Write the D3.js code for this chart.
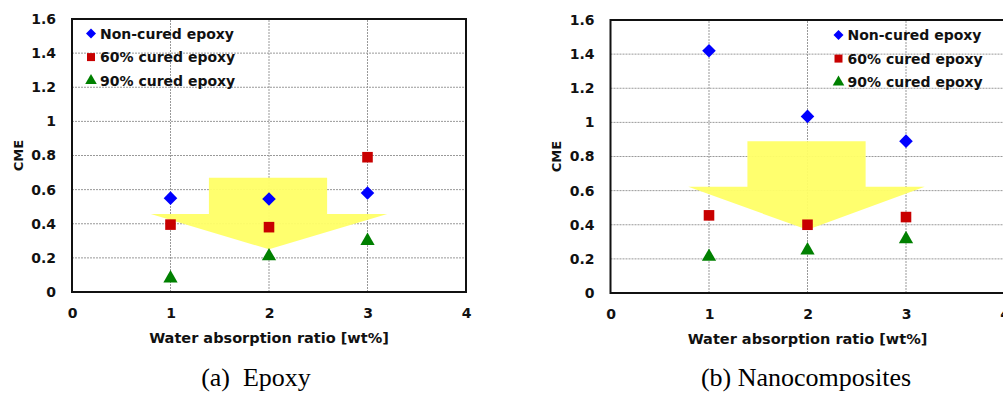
<!DOCTYPE html>
<html>
<head>
<meta charset="utf-8">
<title>CME vs water absorption</title>
<script src="https://d3js.org/d3.v7.min.js"></script>
<style>
body { margin: 0; background: #fff; }
text { font-family: Verdana, "DejaVu Sans", sans-serif; font-weight: bold; fill: #111; }
.caption { font-family: "Liberation Serif", "Times New Roman", serif; font-weight: normal; font-size: 26px; fill: #000; }
</style>
</head>
<body>
<div id="chart"></div>
<script>
// x categories (water absorption ratio, wt%)
const waterRatio = [1, 2, 3];
const xTicks = [0, 1, 2, 3, 4];
const yTicks = [0, 0.2, 0.4, 0.6, 0.8, 1, 1.2, 1.4, 1.6];
const seriesNames = ["Non-cured epoxy", "60% cured epoxy", "90% cured epoxy"];

// (a) Epoxy
const epoxyNonCured = [0.55, 0.545, 0.58];
const epoxy60 = [0.395, 0.38, 0.79];
const epoxy90 = [0.08, 0.21, 0.30];
// yellow arrow: [bodyLeft, bodyRight, bodyTop, headLeft, headRight, headTop, tipX, tipY]
const epoxyArrow = [1.39, 2.59, 0.67, 0.8, 3.2, 0.457, 2, 0.25];

// (b) Nanocomposites
const nanoNonCured = [1.42, 1.035, 0.89];
const nano60 = [0.455, 0.40, 0.445];
const nano90 = [0.213, 0.25, 0.316];
const nanoArrow = [1.39, 2.59, 0.89, 0.79, 3.19, 0.623, 2, 0.37];

const W = 1003, H = 394;
const svg = d3.select("#chart").append("svg")
    .attr("width", W).attr("height", H);

const colors = ["#0000ff", "#c80000", "#008000"];
const symbols = [d3.symbolSquare, d3.symbolSquare, d3.symbolTriangle];
const rot = [45, 0, 0];

function drawPanel(opt) {
  const x = d3.scaleLinear().domain([0, 4]).range([opt.left, opt.left + 394]);
  const y = d3.scaleLinear().domain([0, 1.6]).range([opt.bottom, opt.top]);
  const g = svg.append("g");

  // grid
  g.append("g").selectAll("line").data(yTicks.filter(d => d > 0 && d < 1.6)).join("line")
      .attr("x1", x(0)).attr("x2", x(4))
      .attr("y1", d => y(d)).attr("y2", d => y(d))
      .attr("stroke", "#999").attr("stroke-dasharray", "2,1");
  g.append("g").selectAll("line").data(xTicks.filter(d => d > 0 && d < 4)).join("line")
      .attr("x1", d => x(d)).attr("x2", d => x(d))
      .attr("y1", y(0)).attr("y2", y(1.6))
      .attr("stroke", "#999").attr("stroke-dasharray", "2,1");

  // arrow
  const a = opt.arrow;
  const pts = [[a[0], a[2]], [a[1], a[2]], [a[1], a[5]], [a[4], a[5]],
               [a[6], a[7]], [a[3], a[5]], [a[0], a[5]]];
  g.append("path")
      .attr("d", d3.line().x(d => x(d[0])).y(d => y(d[1]))(pts) + "Z")
      .attr("fill", "#ffff66").attr("opacity", 0.95);

  // frame
  g.append("rect")
      .attr("x", x(0)).attr("y", y(1.6))
      .attr("width", x(4) - x(0)).attr("height", y(0) - y(1.6))
      .attr("fill", "none").attr("stroke", "#111").attr("stroke-width", 2);

  // axes (labels only)
  const yAxis = g.append("g").attr("transform", `translate(${x(0) - 13},0)`)
      .call(d3.axisLeft(y).tickValues(yTicks).tickSize(0).tickFormat(d3.format("~g")));
  yAxis.select(".domain").remove();
  yAxis.selectAll("text").attr("font-size", 14).style("font-family", null);

  const xAxis = g.append("g").attr("transform", `translate(0,${y(0) + 13})`)
      .call(d3.axisBottom(x).tickValues(xTicks).tickSize(0).tickFormat(d3.format("d")));
  xAxis.select(".domain").remove();
  xAxis.selectAll("text").attr("font-size", 14).style("font-family", null);

  g.append("text").attr("x", x(2)).attr("y", y(0) + 51)
      .attr("text-anchor", "middle").attr("font-size", 14.5)
      .text("Water absorption ratio [wt%]");
  g.append("text")
      .attr("transform", `translate(${opt.cmeX},${(y(0) + y(1.6)) / 2}) rotate(-90)`)
      .attr("text-anchor", "middle").attr("dy", "0.35em").attr("font-size", 13)
      .text("CME");

  // points
  opt.series.forEach((vals, i) => {
    g.append("g").selectAll("path").data(vals).join("path")
        .attr("transform", (d, j) => `translate(${x(waterRatio[j])},${y(d)}) rotate(${rot[i]})`)
        .attr("d", d3.symbol().type(symbols[i]).size(i === 0 ? 92 : i === 1 ? 112 : 88))
        .attr("fill", colors[i]);
  });

  // legend
  const leg = g.append("g");
  seriesNames.forEach((name, i) => {
    const ly = opt.legendY + i * 23.6;
    leg.append("path")
        .attr("transform", `translate(${opt.legendX},${ly}) rotate(${rot[i]})`)
        .attr("d", d3.symbol().type(symbols[i]).size(i === 0 ? 50 : i === 1 ? 64 : 58))
        .attr("fill", colors[i]);
    leg.append("text").attr("x", opt.legendX + 9).attr("y", ly).attr("dy", "0.36em")
        .attr("font-size", 14).text(name);
  });

  svg.append("text").attr("class", "caption")
      .attr("x", opt.captionX).attr("y", 386).attr("text-anchor", "middle")
      .attr("xml:space", "preserve")
      .text(opt.caption);
}

drawPanel({
  left: 72, top: 19, bottom: 292,
  series: [epoxyNonCured, epoxy60, epoxy90],
  arrow: epoxyArrow,
  legendX: 91, legendY: 33.5,
  cmeX: 18,
  caption: "(a)\u00a0 Epoxy", captionX: 256
});

drawPanel({
  left: 610.5, top: 20, bottom: 293,
  series: [nanoNonCured, nano60, nano90],
  arrow: nanoArrow,
  legendX: 838.5, legendY: 35,
  cmeX: 556,
  caption: "(b) Nanocomposites", captionX: 806
});
</script>
</body>
</html>
